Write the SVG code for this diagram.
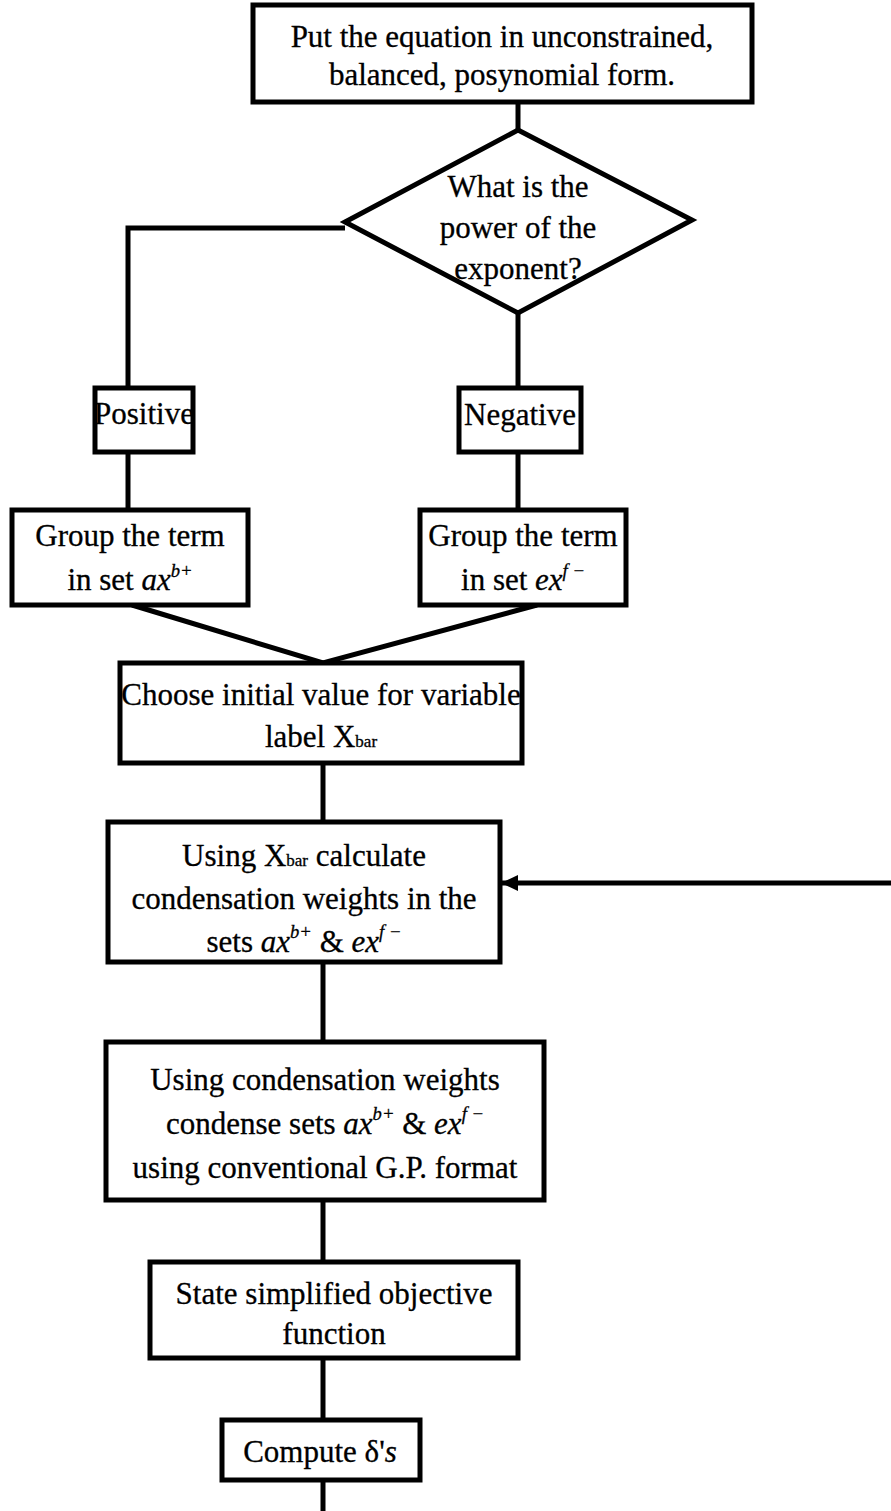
<svg xmlns="http://www.w3.org/2000/svg" width="891" height="1511" viewBox="0 0 891 1511">
<style>
.b{fill:#fff;stroke:#000;stroke-width:5}
.c{fill:none;stroke:#000;stroke-width:5}
text{font-family:"Liberation Serif","Times New Roman",serif;font-size:31px;fill:#000;text-anchor:middle;stroke:#000;stroke-width:0.3}
.i{font-style:italic}
.sup{font-size:0.6em;font-style:italic}
.sub{font-size:0.55em}
</style>
<defs>
<marker id="ah" markerWidth="17" markerHeight="16" refX="17" refY="8" orient="auto" markerUnits="userSpaceOnUse">
<path d="M0,0 L17,8 L0,16 Z" fill="#000"/>
</marker>
</defs>
<rect width="891" height="1511" fill="#fff"/>
<g id="connectors">
<path class="c" d="M518,102 V130"/>
<path class="c" d="M345,228 H128 V388"/>
<path class="c" d="M518,313 V388"/>
<path class="c" d="M128,452 V510"/>
<path class="c" d="M518,452 V510"/>
<path class="c" d="M132,605 L323,663 L537,605"/>
<path class="c" d="M323,763 V822"/>
<path class="c" d="M891,883 H501" marker-end="url(#ah)"/>
<path class="c" d="M323,962 V1042"/>
<path class="c" d="M323,1200 V1262"/>
<path class="c" d="M323,1358 V1420"/>
<path class="c" d="M323,1480 V1511"/>
</g>
<g id="n1">
<rect class="b" x="253" y="5" width="499" height="97"/>
<text x="502" y="47">Put the equation in unconstrained,</text>
<text x="502" y="85">balanced, posynomial form.</text>
</g>
<g id="n2">
<polygon class="b" points="518,130 692,220 518,313 345,222"/>
<text x="518" y="197">What is the</text>
<text x="518" y="238">power of the</text>
<text x="518" y="279">exponent?</text>
</g>
<g id="n3">
<rect class="b" x="95" y="388" width="98" height="64"/>
<text x="144" y="424" font-size="29">Positive</text>
</g>
<g id="n4">
<rect class="b" x="459" y="388" width="122" height="64"/>
<text x="520" y="425" font-size="32">Negative</text>
</g>
<g id="n5">
<rect class="b" x="12" y="510" width="236" height="95"/>
<text x="130" y="546" font-size="32">Group the term</text>
<text x="130" y="590" font-size="32">in set <tspan class="i">ax</tspan><tspan class="sup" dy="-13">b+</tspan></text>
</g>
<g id="n6">
<rect class="b" x="420" y="510" width="206" height="95"/>
<text x="523" y="546" font-size="32">Group the term</text>
<text x="523" y="590" font-size="32">in set <tspan class="i">ex</tspan><tspan class="sup" dy="-13">f −</tspan></text>
</g>
<g id="n7">
<rect class="b" x="120" y="663" width="402" height="100"/>
<text x="321" y="705">Choose initial value for variable</text>
<text x="321" y="747">label X<tspan class="sub">bar</tspan></text>
</g>
<g id="n8">
<rect class="b" x="108" y="822" width="392" height="140"/>
<text x="304" y="866" font-size="34">Using X<tspan class="sub">bar</tspan> calculate</text>
<text x="304" y="909" font-size="34">condensation weights in the</text>
<text x="304" y="952" font-size="34">sets <tspan class="i">ax</tspan><tspan class="sup" dy="-14">b+</tspan><tspan dy="14"> &amp; </tspan><tspan class="i">ex</tspan><tspan class="sup" dy="-14">f −</tspan></text>
</g>
<g id="n9">
<rect class="b" x="106" y="1042" width="438" height="158"/>
<text x="325" y="1090" font-size="34">Using condensation weights</text>
<text x="325" y="1134" font-size="34">condense sets <tspan class="i">ax</tspan><tspan class="sup" dy="-14">b+</tspan><tspan dy="14"> &amp; </tspan><tspan class="i">ex</tspan><tspan class="sup" dy="-14">f −</tspan></text>
<text x="325" y="1178" font-size="34">using conventional G.P. format</text>
</g>
<g id="n10">
<rect class="b" x="150" y="1262" width="368" height="96"/>
<text x="334" y="1304" font-size="32">State simplified objective</text>
<text x="334" y="1344" font-size="32">function</text>
</g>
<g id="n11">
<rect class="b" x="222" y="1420" width="198" height="60"/>
<text x="320" y="1462" font-size="34">Compute δ'<tspan class="i">s</tspan></text>
</g>
</svg>
